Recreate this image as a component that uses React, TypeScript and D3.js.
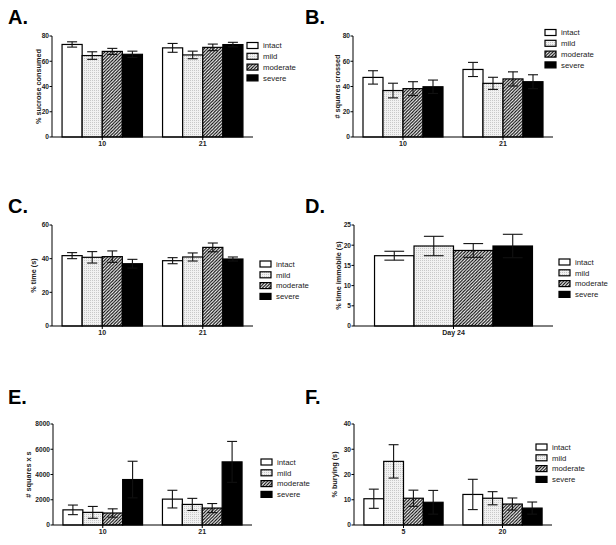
import React from "react";
import * as d3 from "d3";

// ---------- data ----------
const SERIES = ["intact", "mild", "moderate", "severe"];

const A_GROUPS = ["10", "21"];
const A_MEANS = [[73.3, 64.5, 67.8, 65.5], [70.6, 65.0, 71.0, 73.2]];
const A_ERRS = [[2.1, 3.0, 2.4, 2.5], [3.5, 3.0, 2.6, 1.8]];
const A_TICKS = [0, 20, 40, 60, 80];

const B_GROUPS = ["10", "21"];
const B_MEANS = [[47.2, 36.8, 38.3, 39.8], [53.5, 42.5, 46.0, 43.8]];
const B_ERRS = [[5.3, 5.8, 5.5, 5.3], [5.6, 4.8, 5.6, 5.5]];
const B_TICKS = [0, 20, 40, 60, 80];

const C_GROUPS = ["10", "21"];
const C_MEANS = [[41.8, 40.8, 41.2, 37.0], [38.8, 41.0, 46.7, 39.8]];
const C_ERRS = [[1.8, 3.4, 3.4, 2.6], [1.8, 2.4, 2.6, 1.2]];
const C_TICKS = [0, 20, 40, 60];

const D_GROUPS = ["Day 24"];
const D_MEANS = [[17.4, 19.8, 18.7, 19.8]];
const D_ERRS = [[1.1, 2.4, 1.7, 2.9]];
const D_TICKS = [0, 5, 10, 15, 20, 25];

const E_GROUPS = ["10", "21"];
const E_MEANS = [[1200, 1000, 950, 3600], [2050, 1630, 1340, 5000]];
const E_ERRS = [[380, 470, 330, 1450], [700, 480, 360, 1620]];
const E_TICKS = [0, 2000, 4000, 6000, 8000];

const F_GROUPS = ["5", "20"];
const F_MEANS = [[10.4, 25.2, 10.6, 9.0], [12.1, 10.6, 8.3, 6.7]];
const F_ERRS = [[3.8, 6.6, 3.2, 4.7], [6.0, 2.6, 2.4, 2.4]];
const F_TICKS = [0, 10, 20, 30, 40];

// ---------- layout ----------
const FONT = "'Liberation Sans', Arial, Helvetica, sans-serif";
const FILLS: Record<string, string> = {
  intact: "#ffffff",
  mild: "url(#dots)",
  moderate: "url(#hatch)",
  severe: "#000000",
};

type Cfg = {
  title: string; tx: number; ty: number;
  yLabel: string; ylx: number;
  groups: string[]; means: number[][]; errs: number[][]; ticks: number[];
  x0: number; x1: number; yTop: number; yZero: number;
  padIn: number; padOut: number;
  lx: number; ly: number;
};

const PANELS: Cfg[] = [
  { title: "A.", tx: 8, ty: 24, yLabel: "% sucrose consumed", ylx: 38.5,
    groups: A_GROUPS, means: A_MEANS, errs: A_ERRS, ticks: A_TICKS,
    x0: 52, x1: 253, yTop: 36, yZero: 137, padIn: 0.2, padOut: 0.1, lx: 247, ly: 45.5 },
  { title: "B.", tx: 305, ty: 24, yLabel: "# squares crossed", ylx: 337,
    groups: B_GROUPS, means: B_MEANS, errs: B_ERRS, ticks: B_TICKS,
    x0: 353, x1: 553, yTop: 36, yZero: 137, padIn: 0.2, padOut: 0.1, lx: 545, ly: 32.5 },
  { title: "C.", tx: 8, ty: 213, yLabel: "% time (s)", ylx: 33,
    groups: C_GROUPS, means: C_MEANS, errs: C_ERRS, ticks: C_TICKS,
    x0: 52, x1: 253, yTop: 225, yZero: 326, padIn: 0.2, padOut: 0.1, lx: 260, ly: 264 },
  { title: "D.", tx: 305, ty: 213, yLabel: "% time immobile (s)", ylx: 338.5,
    groups: D_GROUPS, means: D_MEANS, errs: D_ERRS, ticks: D_TICKS,
    x0: 354, x1: 553, yTop: 225, yZero: 326, padIn: 0, padOut: 0.13, lx: 559, ly: 262 },
  { title: "E.", tx: 8, ty: 404, yLabel: "# squares x s", ylx: 28,
    groups: E_GROUPS, means: E_MEANS, errs: E_ERRS, ticks: E_TICKS,
    x0: 53, x1: 252, yTop: 424, yZero: 525, padIn: 0.2, padOut: 0.1, lx: 261, ly: 462 },
  { title: "F.", tx: 305, ty: 404, yLabel: "% burying (s)", ylx: 334,
    groups: F_GROUPS, means: F_MEANS, errs: F_ERRS, ticks: F_TICKS,
    x0: 354, x1: 552, yTop: 424, yZero: 525, padIn: 0.2, padOut: 0.1, lx: 536, ly: 447 },
];

function Panel({ c }: { c: Cfg }) {
  const x = d3.scaleBand<string>().domain(c.groups).range([c.x0, c.x1])
    .paddingInner(c.padIn).paddingOuter(c.padOut);
  const xs = d3.scaleBand<string>().domain(SERIES).range([0, x.bandwidth()]);
  const y = d3.scaleLinear().domain([0, c.ticks[c.ticks.length - 1]]).range([c.yZero, c.yTop]);
  const bw = xs.bandwidth();
  const cap = bw * 0.25;
  return (
    <g>
      <text x={c.tx} y={c.ty} fontSize={20} fontWeight="bold" fontFamily={FONT}>{c.title}</text>
      {c.groups.map((g, gi) =>
        SERIES.map((s, si) => {
          const bx = (x(g) as number) + (xs(s) as number);
          const v = c.means[gi][si];
          const e = c.errs[gi][si];
          const cx = bx + bw / 2;
          return (
            <g key={g + s}>
              <rect x={bx} y={y(v)} width={bw} height={c.yZero - y(v)}
                fill={FILLS[s]} stroke="#000" strokeWidth={1.2} />
              <line x1={cx} x2={cx} y1={y(v - e)} y2={y(v + e)} stroke="#111" strokeWidth={1.1} />
              <line x1={cx - cap} x2={cx + cap} y1={y(v + e)} y2={y(v + e)} stroke="#111" strokeWidth={1.1} />
              <line x1={cx - cap} x2={cx + cap} y1={y(v - e)} y2={y(v - e)} stroke="#111" strokeWidth={1.1} />
            </g>
          );
        })
      )}
      {/* axes */}
      <line x1={c.x0} x2={c.x0} y1={c.yTop} y2={c.yZero} stroke="#000" strokeWidth={1} />
      <line x1={c.x0} x2={c.x1} y1={c.yZero} y2={c.yZero} stroke="#000" strokeWidth={1} />
      {c.ticks.map((t) => (
        <g key={t}>
          <line x1={c.x0 - 2.5} x2={c.x0} y1={y(t)} y2={y(t)} stroke="#000" strokeWidth={1} />
          <text x={c.x0 - 3} y={y(t)} dy="0.35em" textAnchor="end" fontSize={6.6}
            fontWeight="bold" fontFamily={FONT} fill="#222">{t}</text>
        </g>
      ))}
      {c.groups.map((g) => {
        const gx = (x(g) as number) + x.bandwidth() / 2;
        return (
          <g key={g}>
            <line x1={gx} x2={gx} y1={c.yZero} y2={c.yZero + 3} stroke="#000" strokeWidth={1} />
            <text x={gx} y={c.yZero + 9} textAnchor="middle" fontSize={7} fontWeight="bold"
              fontFamily={FONT} fill="#222">{g}</text>
          </g>
        );
      })}
      <text transform={`translate(${c.ylx},${(c.yTop + c.yZero) / 2}) rotate(-90)`}
        textAnchor="middle" dy="0.35em" fontSize={7.3} fontWeight="bold" fontFamily={FONT}
        fill="#222">{c.yLabel}</text>
      {/* legend */}
      {SERIES.map((s, i) => (
        <g key={s}>
          <rect x={c.lx} y={c.ly + i * 10.8 - 3} width={11} height={6} fill={FILLS[s]}
            stroke="#000" strokeWidth={1.2} />
          <text x={c.lx + 16} y={c.ly + i * 10.8} dy="0.35em" fontSize={7.8}
            fontFamily={FONT} fill="#222">{s}</text>
        </g>
      ))}
    </g>
  );
}

export default function App() {
  return (
    <div style={{ position: "absolute", left: 0, top: 0 }}>
      <svg width={616} height={545} style={{ display: "block", background: "#fff" }}>
        <defs>
          <pattern id="dots" patternUnits="userSpaceOnUse" width={2} height={2}>
            <rect width={2} height={2} fill="#f1f1f1" />
            <rect width={1} height={1} fill="#c8c8c8" />
          </pattern>
          <pattern id="hatch" patternUnits="userSpaceOnUse" width={3.2} height={3.2}>
            <rect width={3.2} height={3.2} fill="#fff" />
            <path d="M-0.8,0.8 L0.8,-0.8 M0,3.2 L3.2,0 M2.4,4 L4,2.4" stroke="#000" strokeWidth={1.1} />
          </pattern>
        </defs>
        {PANELS.map((p) => <Panel key={p.title} c={p} />)}
      </svg>
    </div>
  );
}
